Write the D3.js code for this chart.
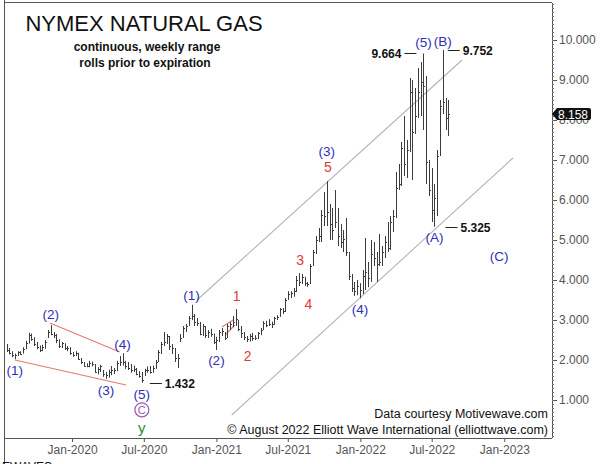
<!DOCTYPE html>
<html>
<head>
<meta charset="utf-8">
<script src="https://cdn.jsdelivr.net/npm/d3@7"></script>
<style>
  body { margin: 0; background: #fff; }
  svg { font-family: "Liberation Sans", Arial, sans-serif; display: block; }
</style>
</head>
<body>
<div id="chart"></div>
<script>
// weekly bars, first week ending 2019-07-19
const firstWeek = "2019-07-19";
const highs = [2.40,2.30,2.22,2.16,2.22,2.22,2.32,2.48,2.68,2.66,2.57,2.45,2.36,2.38,2.50,2.75,2.87,2.70,2.65,2.52,
  2.45,2.42,2.35,2.32,2.20,2.22,2.18,2.05,1.95,1.92,1.98,1.96,1.90,1.82,1.88,1.75,1.70,1.76,1.85,1.80,
  1.98,2.10,2.17,1.98,1.95,1.90,1.86,1.80,1.72,1.70,1.78,1.84,1.85,1.86,2.00,2.25,2.45,2.70,2.65,2.60,
  2.40,2.30,2.15,2.65,2.85,2.90,3.10,3.38,3.15,3.05,2.95,2.90,2.85,2.75,2.78,2.66,2.58,2.75,2.80,2.70,
  2.90,2.95,3.10,3.27,3.00,2.85,2.70,2.60,2.65,2.68,2.62,2.70,2.80,2.97,2.98,3.02,2.96,3.08,3.12,3.30,
  3.30,3.55,3.72,3.72,3.80,4.10,4.17,4.15,4.08,3.95,4.40,4.75,5.10,5.30,5.75,6.20,6.47,5.90,5.80,6.25,
  5.80,5.40,5.25,5.55,4.70,4.15,3.95,4.00,3.92,4.25,5.05,4.45,5.00,4.95,4.70,5.15,4.85,5.10,5.45,5.60,
  5.75,6.70,6.90,7.45,8.10,7.50,9.05,9.00,8.80,9.30,9.45,9.66,9.10,7.00,6.80,6.40,7.25,8.50,9.75,8.55,8.50];
const lows = [2.20,2.14,2.07,2.02,2.10,2.13,2.16,2.27,2.41,2.48,2.35,2.27,2.20,2.22,2.28,2.55,2.62,2.55,2.42,2.30,
  2.30,2.25,2.22,2.13,2.08,2.10,2.00,1.90,1.83,1.82,1.82,1.84,1.68,1.64,1.70,1.58,1.53,1.56,1.62,1.65,
  1.72,1.85,1.86,1.78,1.75,1.68,1.70,1.62,1.56,1.43,1.60,1.68,1.66,1.68,1.78,1.95,2.15,2.35,2.40,2.25,
  2.15,1.95,1.80,2.45,2.55,2.70,2.85,3.00,2.85,2.85,2.62,2.60,2.55,2.55,2.58,2.40,2.25,2.45,2.60,2.50,
  2.55,2.75,2.82,2.85,2.72,2.55,2.50,2.45,2.46,2.48,2.50,2.52,2.62,2.75,2.82,2.85,2.80,2.88,3.00,3.08,
  3.15,3.20,3.50,3.55,3.58,3.70,3.85,3.90,3.85,3.83,3.90,4.35,4.65,4.95,4.95,5.35,5.35,5.00,5.00,5.30,
  4.85,4.80,4.70,4.60,4.00,3.70,3.60,3.62,3.54,3.65,3.75,3.82,3.95,4.35,3.95,4.35,4.35,4.55,4.70,4.75,
  5.20,5.55,6.25,6.35,6.60,6.55,7.20,6.50,7.65,8.05,8.10,7.75,6.40,6.10,5.45,5.33,5.60,7.10,8.15,7.75,7.60];
const closes = [2.25,2.17,2.12,2.12,2.19,2.16,2.28,2.42,2.62,2.52,2.41,2.33,2.24,2.33,2.45,2.70,2.66,2.62,2.50,2.36,
  2.42,2.30,2.30,2.18,2.13,2.17,2.02,1.94,1.86,1.86,1.92,1.90,1.70,1.78,1.85,1.64,1.62,1.70,1.75,1.76,
  1.92,1.95,1.95,1.85,1.80,1.76,1.78,1.66,1.60,1.50,1.74,1.75,1.70,1.80,1.95,2.20,2.40,2.45,2.60,2.35,
  2.30,2.05,2.05,2.55,2.80,2.85,3.05,3.10,2.95,2.92,2.66,2.85,2.62,2.70,2.65,2.45,2.50,2.70,2.72,2.56,
  2.85,2.90,2.96,3.02,2.77,2.68,2.57,2.52,2.60,2.55,2.55,2.68,2.75,2.92,2.88,2.90,2.90,3.05,3.08,3.28,
  3.22,3.50,3.65,3.68,3.72,4.00,3.95,4.08,3.92,3.90,4.35,4.70,5.00,5.10,5.62,5.60,5.70,5.40,5.25,5.45,
  5.10,4.95,5.02,4.70,4.10,3.80,3.72,3.85,3.75,4.10,4.20,4.05,4.65,4.55,4.40,4.45,4.70,4.95,4.80,5.45,
  5.60,6.30,6.40,7.30,6.90,7.25,8.70,7.70,8.10,8.70,8.95,8.85,6.95,6.25,5.75,6.05,7.10,8.35,8.45,8.05,8.16];

const yTicks = [1, 2, 3, 4, 5, 6, 7, 8, 9, 10];
const xTickDates = ["2020-01-01", "2020-07-01", "2021-01-01", "2021-07-01", "2022-01-01", "2022-07-01", "2023-01-01"];
const xTickLabels = ["Jan-2020", "Jul-2020", "Jan-2021", "Jul-2021", "Jan-2022", "Jul-2022", "Jan-2023"];
const lastPrice = 8.158;

// wave counts: week index, bar end, pixel offset
const blueWaves = [
  {t: "(1)", i: 3, at: "low", dy: 11},
  {t: "(2)", i: 16, at: "high", dy: -11},
  {t: "(3)", i: 36, at: "low", dy: 11},
  {t: "(4)", i: 42, at: "high", dy: -9},
  {t: "(5)", i: 49, at: "low", dy: 11},
  {t: "(1)", i: 67, at: "high", dy: -10},
  {t: "(2)", i: 76, at: "low", dy: 10},
  {t: "(3)", i: 116, at: "high", dy: -30},
  {t: "(4)", i: 128, at: "low", dy: 11},
  {t: "(5)", i: 151, at: "high", dy: -11},
  {t: "(A)", i: 155, at: "low", dy: 10},
  {t: "(B)", i: 158, at: "high", dy: -9}
];
const redWaves = [
  {t: "1", i: 83, at: "high", dy: -13},
  {t: "2", i: 87, at: "low", dy: 14},
  {t: "3", i: 106, at: "high", dy: -13},
  {t: "4", i: 109, at: "low", dy: 17},
  {t: "5", i: 116, at: "high", dy: -14}
];
const waveC = {t: "(C)", date: "2022-12-19", v: 4.6};

// price callouts
const callouts = [
  {t: "1.432", i: 49, v: 1.432, side: "right", gap: 8},
  {t: "9.664", i: 151, v: 9.664, side: "left", gap: 7},
  {t: "9.752", i: 158, v: 9.752, side: "right", gap: 5},
  {t: "5.325", i: 155, v: 5.325, side: "right", gap: 11}
];

// channel and wedge lines [date, value] pairs
const channelLines = [
  [["2020-11-13", 3.5], ["2022-09-16", 9.5]],
  [["2021-02-09", 0.625], ["2023-01-23", 7.05]]
];
const wedgeLines = [
  [["2019-11-06", 2.925], ["2020-05-01", 2.2]],
  [["2019-08-09", 2.0], ["2020-05-17", 1.375]],
  [["2021-01-15", 2.825], ["2021-02-12", 3.0]],
  [["2021-01-23", 2.625], ["2021-02-17", 2.875]]
];

const width = 600, height = 464;
const margin = {top: 3, right: 48, bottom: 26, left: 5};
const parse = d3.utcParse("%Y-%m-%d");

const svg = d3.select("#chart").append("svg")
    .attr("width", width)
    .attr("height", height);

const x = d3.scaleUtc()
    .domain([parse("2019-07-15"), parse("2023-05-02")])
    .range([margin.left, width - margin.right]);

const y = d3.scaleLinear()
    .domain([0.05, 10.925])
    .range([height - margin.bottom, margin.top]);

const weeks = highs.map((h, i) => d3.utcDay.offset(parse(firstWeek), i * 7));
const bars = highs.map((h, i) => ({date: weeks[i], high: h, low: lows[i], close: closes[i]}));

const blue = "#2f2fb8";
const red = "#e23b35";
const barColor = "#3c3c3c";

// frame
svg.append("line")
    .attr("x1", 4.5).attr("x2", 4.5).attr("y1", 0).attr("y2", height)
    .attr("stroke", "#555");
svg.append("line")
    .attr("x1", 4.5).attr("x2", width - margin.right).attr("y1", 2.5).attr("y2", 2.5)
    .attr("stroke", "#555");

// channel lines
const lineGen = d3.line()
    .x(d => x(parse(d[0])))
    .y(d => y(d[1]));

svg.selectAll(".channel")
    .data(channelLines)
    .join("path")
    .attr("class", "channel")
    .attr("d", lineGen)
    .attr("fill", "none")
    .attr("stroke", "#b4b4b4")
    .attr("stroke-width", 1.1);

svg.selectAll(".wedge")
    .data(wedgeLines)
    .join("path")
    .attr("class", "wedge")
    .attr("d", lineGen)
    .attr("fill", "none")
    .attr("stroke", "#e57b72")
    .attr("stroke-width", 1.2);

// bars
const barG = svg.append("g").attr("stroke", barColor).attr("stroke-width", 1);
barG.selectAll(".hl")
    .data(bars)
    .join("line")
    .attr("x1", d => Math.round(x(d.date)) + 0.5)
    .attr("x2", d => Math.round(x(d.date)) + 0.5)
    .attr("y1", d => y(d.high))
    .attr("y2", d => y(d.low));
barG.selectAll(".cl")
    .data(bars)
    .join("line")
    .attr("x1", d => Math.round(x(d.date)) + 0.5)
    .attr("x2", d => Math.round(x(d.date)) + 2)
    .attr("y1", d => Math.round(y(d.close)) + 0.5)
    .attr("y2", d => Math.round(y(d.close)) + 0.5);

// y axis (right)
const yAxis = svg.append("g")
    .attr("transform", `translate(${width - margin.right},0)`)
    .call(d3.axisRight(y).tickValues(yTicks).tickFormat(d3.format(".3f")).tickSize(5).tickPadding(2));
yAxis.select(".domain").attr("stroke", "#555").attr("d", `M0.5,${margin.top}V${height - margin.bottom}`);
yAxis.selectAll(".tick line").attr("stroke", "#555");
yAxis.selectAll("text").attr("fill", "#555").style("font-size", "12px")
    .style("font-family", "'Liberation Sans', Arial, sans-serif");

svg.append("g")
    .attr("transform", `translate(${width - margin.right},0)`)
    .call(d3.axisRight(y).ticks(100).tickFormat("").tickSize(2))
    .call(g => g.select(".domain").remove())
    .selectAll("line").attr("stroke", "#777");

// x axis (bottom)
const xAxis = svg.append("g")
    .attr("transform", `translate(0,${height - margin.bottom})`)
    .call(d3.axisBottom(x)
        .tickValues(xTickDates.map(parse))
        .tickFormat((d, i) => xTickLabels[i])
        .tickSize(4).tickPadding(3));
xAxis.select(".domain").attr("stroke", "#555").attr("d", `M${margin.left},0.5H${width - margin.right}`);
xAxis.selectAll(".tick line").attr("stroke", "#555");
xAxis.selectAll("text").attr("fill", "#555").style("font-size", "12px")
    .style("font-family", "'Liberation Sans', Arial, sans-serif");

// last price marker
const lp = Math.round(y(lastPrice));
const lpx = width - margin.right;
svg.append("path")
    .attr("d", `M${lpx},${lp} L${lpx + 5},${lp - 6} H${lpx + 37} a2,2 0 0 1 2,2 V${lp + 4} a2,2 0 0 1 -2,2 H${lpx + 5} Z`)
    .attr("fill", "#111");
svg.append("text")
    .attr("x", lpx + 21).attr("y", lp + 4.5)
    .attr("text-anchor", "middle")
    .attr("fill", "#fff")
    .style("font-size", "12px")
    .text(lastPrice.toFixed(3));

// title
svg.append("text")
    .attr("x", 144).attr("y", 31)
    .attr("text-anchor", "middle")
    .attr("fill", "#111")
    .style("font-size", "22px")
    .text("NYMEX NATURAL GAS");
svg.append("text")
    .attr("x", 147).attr("y", 51)
    .attr("text-anchor", "middle")
    .attr("fill", "#111")
    .style("font-size", "12px").style("font-weight", "bold")
    .text("continuous, weekly range");
svg.append("text")
    .attr("x", 145).attr("y", 67)
    .attr("text-anchor", "middle")
    .attr("fill", "#111")
    .style("font-size", "12px").style("font-weight", "bold")
    .text("rolls prior to expiration");

// wave labels
const barEnd = d => d.at === "high" ? highs[d.i] : lows[d.i];
svg.selectAll(".blueWave")
    .data(blueWaves)
    .join("text")
    .attr("class", "blueWave")
    .attr("x", d => x(weeks[d.i]))
    .attr("y", d => y(barEnd(d)) + d.dy)
    .attr("dy", "0.35em")
    .attr("text-anchor", "middle")
    .attr("fill", blue)
    .style("font-size", "13.5px")
    .text(d => d.t);

svg.selectAll(".redWave")
    .data(redWaves)
    .join("text")
    .attr("class", "redWave")
    .attr("x", d => x(weeks[d.i]) + 1)
    .attr("y", d => y(barEnd(d)) + d.dy)
    .attr("dy", "0.35em")
    .attr("text-anchor", "middle")
    .attr("fill", red)
    .style("font-size", "14px")
    .text(d => d.t);

svg.append("text")
    .attr("x", x(parse(waveC.date)))
    .attr("y", y(waveC.v))
    .attr("dy", "0.35em")
    .attr("text-anchor", "middle")
    .attr("fill", blue)
    .style("font-size", "13.5px")
    .text(waveC.t);

// circled C and y under the (5) low
const c5x = x(weeks[49]);
const c5y = y(lows[49]);
svg.append("circle")
    .attr("cx", c5x).attr("cy", c5y + 27).attr("r", 7)
    .attr("fill", "none").attr("stroke", "#9b59b0").attr("stroke-width", 1.2);
svg.append("text")
    .attr("x", c5x).attr("y", c5y + 27)
    .attr("dy", "0.35em")
    .attr("text-anchor", "middle")
    .attr("fill", "#9b59b0")
    .style("font-size", "11px")
    .text("C");
svg.append("text")
    .attr("x", c5x).attr("y", c5y + 45)
    .attr("dy", "0.35em")
    .attr("text-anchor", "middle")
    .attr("fill", "#2f8a35")
    .style("font-size", "15px")
    .text("y");

// price callouts
const co = svg.selectAll(".callout")
    .data(callouts)
    .join("g")
    .attr("class", "callout")
    .attr("transform", d => `translate(${x(weeks[d.i])},${Math.round(y(d.v)) + 0.5})`);
co.append("line")
    .attr("x1", d => d.side === "right" ? d.gap : -d.gap)
    .attr("x2", d => d.side === "right" ? d.gap + 12 : -d.gap - 12)
    .attr("stroke", "#222");
co.append("text")
    .attr("x", d => d.side === "right" ? d.gap + 15 : -d.gap - 15)
    .attr("dy", "0.35em")
    .attr("text-anchor", d => d.side === "right" ? "start" : "end")
    .attr("fill", "#111")
    .style("font-size", "12px").style("font-weight", "bold")
    .text(d => d.t);

// credits
svg.append("text")
    .attr("x", width - margin.right - 4).attr("y", 418)
    .attr("text-anchor", "end")
    .attr("fill", "#111")
    .style("font-size", "12.5px")
    .text("Data courtesy Motivewave.com");
svg.append("text")
    .attr("x", width - margin.right - 4).attr("y", 434)
    .attr("text-anchor", "end")
    .attr("fill", "#111")
    .style("font-size", "12.5px")
    .text("\u00a9 August 2022 Elliott Wave International (elliottwave.com)");

svg.append("text")
    .attr("x", 2).attr("y", 471)
    .attr("fill", "#111")
    .style("font-size", "12px")
    .text("EWAVES");
</script>
</body>
</html>
